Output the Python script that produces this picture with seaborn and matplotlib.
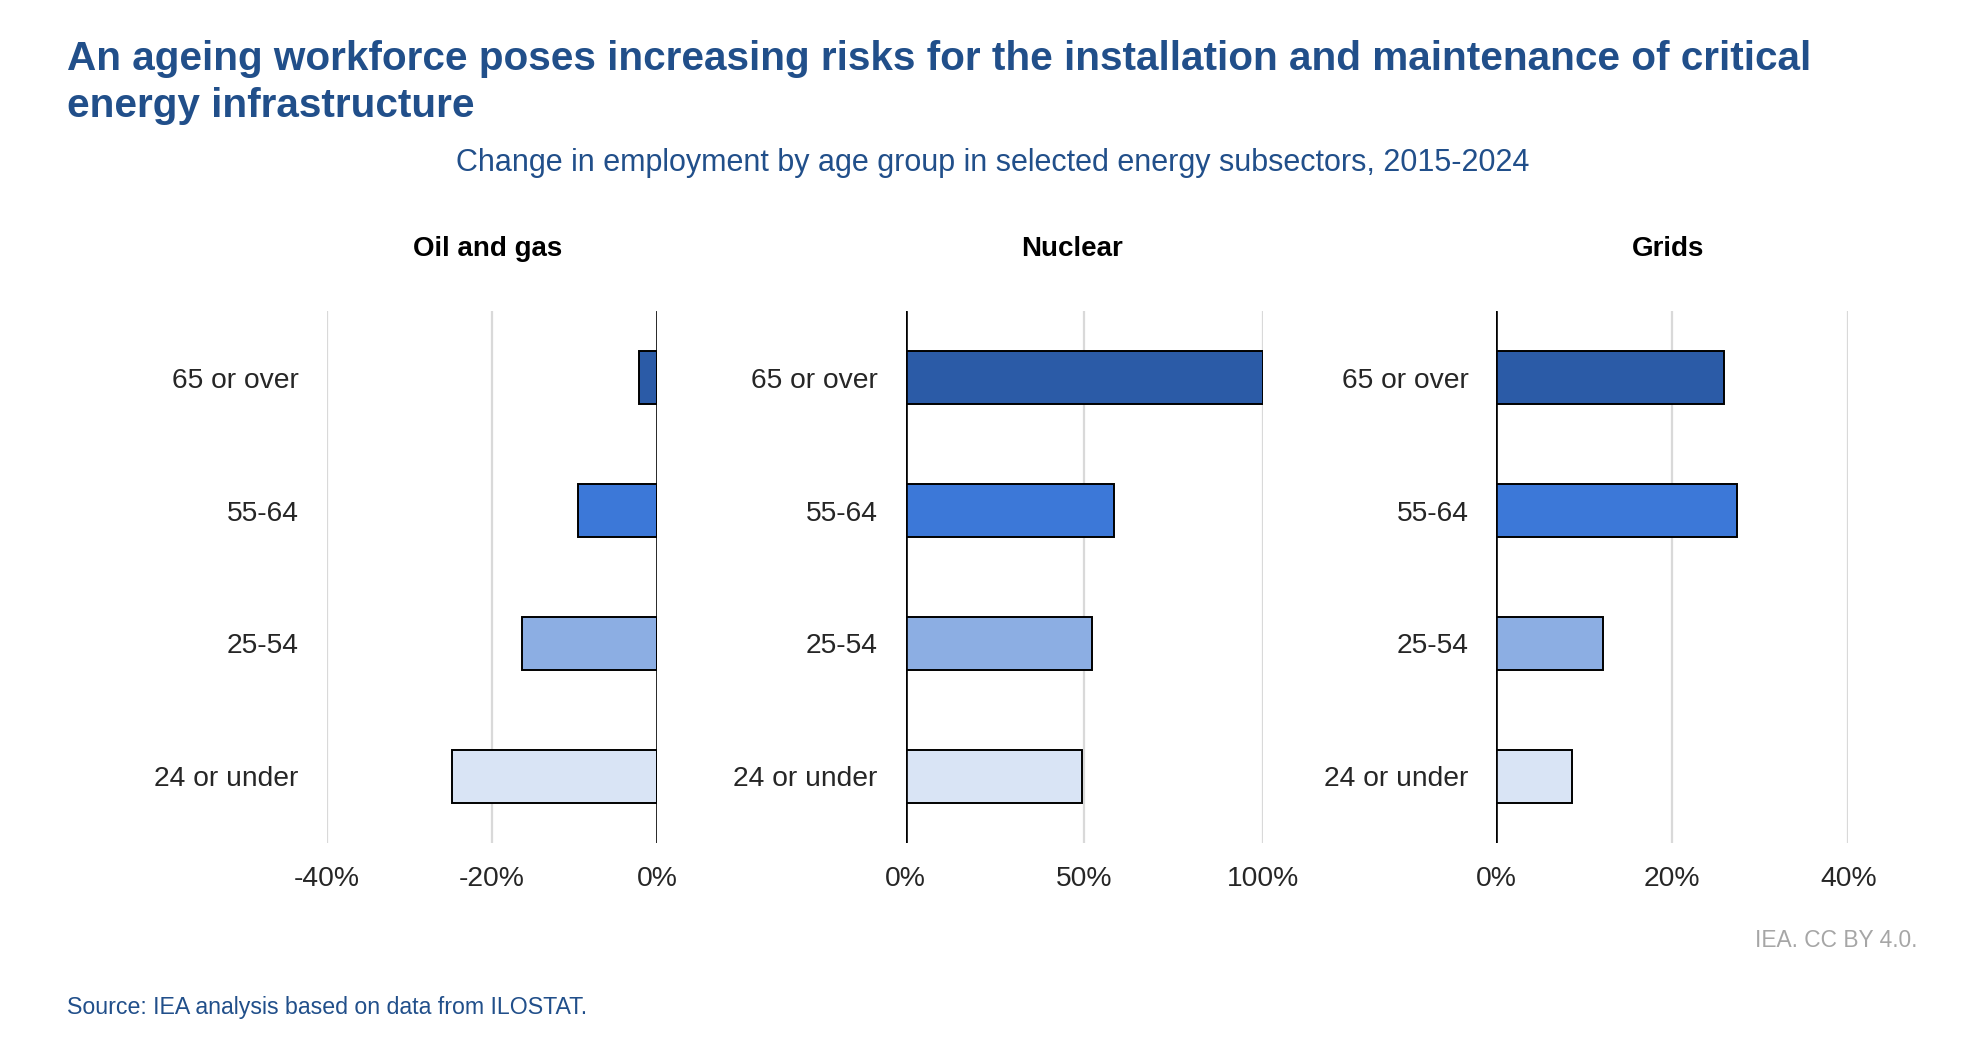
import pandas as pd
import numpy as np
import matplotlib.pyplot as plt
import seaborn as sns

#data (change 2015-2024, %)
ages = ["65 or over", "55-64", "25-54", "24 or under"]
sectors = ["Oil and gas", "Nuclear", "Grids"]
oil_gas = [-2.2, -9.6, -16.3, -24.8]
nuclear = [100.0, 58.4, 52.3, 49.5]
grids = [25.9, 27.3, 12.1, 8.6]
xticks = {"Oil and gas": [-40, -20, 0], "Nuclear": [0, 50, 100], "Grids": [0, 20, 40]}
age_colors = ["#2b5ba7", "#3c78d8", "#8caee3", "#d9e4f5"]

df = pd.DataFrame({
    "sector": np.repeat(sectors, len(ages)),
    "age": ages * len(sectors),
    "value": oil_gas + nuclear + grids,
})

sns.set_theme(style="white")
plt.rcParams["font.family"] = ["Liberation Sans", "DejaVu Sans"]

blue = "#214f8a"
fig = plt.figure(figsize=(19.88, 10.40), dpi=100)

positions = [[0.1643, 0.1897, 0.1662, 0.511],
             [0.4555, 0.1897, 0.1798, 0.511],
             [0.7526, 0.1897, 0.1772, 0.511]]
title_x = [0.488, 0.466, 0.487]

for sector, pos, tx in zip(sectors, positions, title_x):
    ax = fig.add_axes(pos)
    sub = df[df["sector"] == sector]
    ticks = xticks[sector]
    for t in ticks:
        if t != 0:
            ax.axvline(t, color="#d9d9d9", lw=1.6, zorder=0)
    sns.barplot(data=sub, x="value", y="age", hue="age", order=ages, hue_order=ages,
                palette=age_colors, saturation=1, orient="h", width=0.4, edgecolor="black",
                linewidth=1.4, legend=False, ax=ax, zorder=2)
    ax.axvline(0, color="black", lw=1.9, zorder=3)
    ax.set_xlim(ticks[0], ticks[-1])
    ax.set_ylim(3.5, -0.5)
    ax.set_xticks(ticks)
    ax.set_xticklabels([f"{t}%" for t in ticks])
    ax.tick_params(axis="x", length=0, pad=16.5, labelsize=20.3)
    ax.tick_params(axis="y", length=0, pad=20, labelsize=20.3)
    ax.set_xlabel("")
    ax.set_ylabel("")
    for s in ax.spines.values():
        s.set_visible(False)
    ax.set_title(sector, fontsize=20, fontweight="bold", color="black", pad=40, x=tx)

fig.text(0.0335, 0.962, "An ageing workforce poses increasing risks for the installation and maintenance of critical\nenergy infrastructure",
         fontsize=29.2, fontweight="bold", color=blue, ha="left", va="top", linespacing=1.3)
fig.text(0.4994, 0.8436, "Change in employment by age group in selected energy subsectors, 2015-2024",
         fontsize=22, color=blue, ha="center", va="center")
fig.text(0.9646, 0.096, "IEA. CC BY 4.0.", fontsize=16.4, color="#a6a6a6", ha="right", va="center")
fig.text(0.0335, 0.031, "Source: IEA analysis based on data from ILOSTAT.", fontsize=16.7, color=blue,
         ha="left", va="center")

fig.savefig("out.png", dpi=100, facecolor="white")
